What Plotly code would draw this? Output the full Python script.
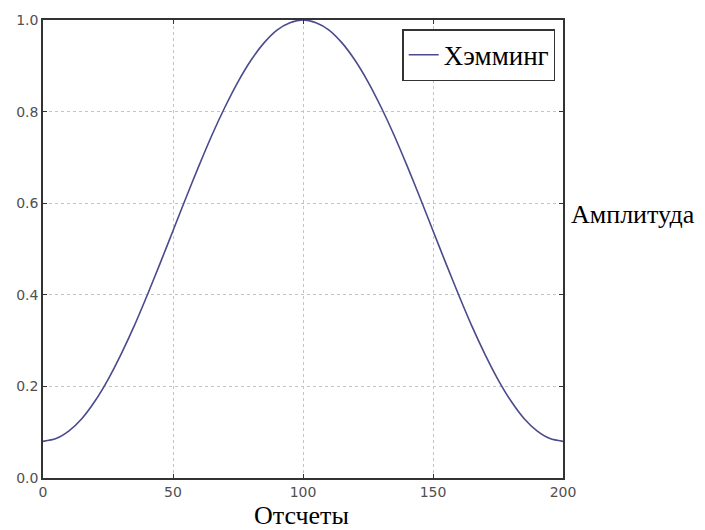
import plotly.graph_objects as go

# Samples (every 5) and window amplitude
samples = [0, 5, 10, 15, 20, 25, 30, 35, 40, 45, 50, 55, 60, 65, 70, 75, 80, 85, 90, 95, 100,
           105, 110, 115, 120, 125, 130, 135, 140, 145, 150, 155, 160, 165, 170, 175, 180,
           185, 190, 195, 200]
amplitude = [0.080, 0.086, 0.103, 0.130, 0.168, 0.215, 0.270, 0.331, 0.398, 0.468, 0.540,
             0.612, 0.682, 0.749, 0.810, 0.865, 0.912, 0.950, 0.978, 0.994, 1.000,
             0.994, 0.978, 0.950, 0.912, 0.865, 0.810, 0.749, 0.682, 0.612, 0.540,
             0.468, 0.398, 0.331, 0.270, 0.215, 0.168, 0.130, 0.103, 0.086, 0.080]
series_name = "Хэмминг"
x_title = "Отсчеты"
y_title = "Амплитуда"
x_ticks = [0, 50, 100, 150, 200]
y_ticks = [0.0, 0.2, 0.4, 0.6, 0.8, 1.0]

fig = go.Figure()
fig.add_trace(go.Scatter(
    x=samples, y=amplitude, mode="lines", name=series_name,
    line=dict(color="#4a4a8c", width=1.6, shape="spline", smoothing=0.8),
))

axis_common = dict(
    showline=True, linecolor="#333333", linewidth=1.5, mirror="ticks",
    showgrid=True, gridcolor="#c4c4c4", griddash="dot", gridwidth=1,
    ticks="inside", ticklen=4, tickcolor="#333333",
    tickfont=dict(family="DejaVu Sans", size=14, color="#505050"),
    zeroline=False, automargin=False,
)
fig.update_xaxes(range=[0, 200], tickvals=x_ticks, **axis_common)
fig.update_yaxes(range=[0, 1.0], tickvals=y_ticks, tickformat=".1f", **axis_common)

fig.update_layout(
    width=697, height=522,
    margin=dict(l=35, r=142, t=12, b=52),
    paper_bgcolor="white", plot_bgcolor="white",
    showlegend=True,
    legend=dict(
        x=0.985, y=0.98, xanchor="right", yanchor="top",
        bordercolor="#333333", borderwidth=1.5, bgcolor="white",
        font=dict(family="Liberation Serif", size=27, color="black"),
        tracegroupgap=0,
    ),
    annotations=[
        dict(text=x_title, xref="paper", yref="paper", x=0.497, y=-0.082,
             xanchor="center", yanchor="middle", showarrow=False, borderpad=0,
             font=dict(family="Liberation Serif", size=26, color="black")),
        dict(text=y_title, xref="paper", yref="paper", x=1.011, y=0.576,
             xanchor="left", yanchor="middle", showarrow=False,
             font=dict(family="Liberation Serif", size=26, color="black")),
    ],
)

fig.write_html("out.html")
